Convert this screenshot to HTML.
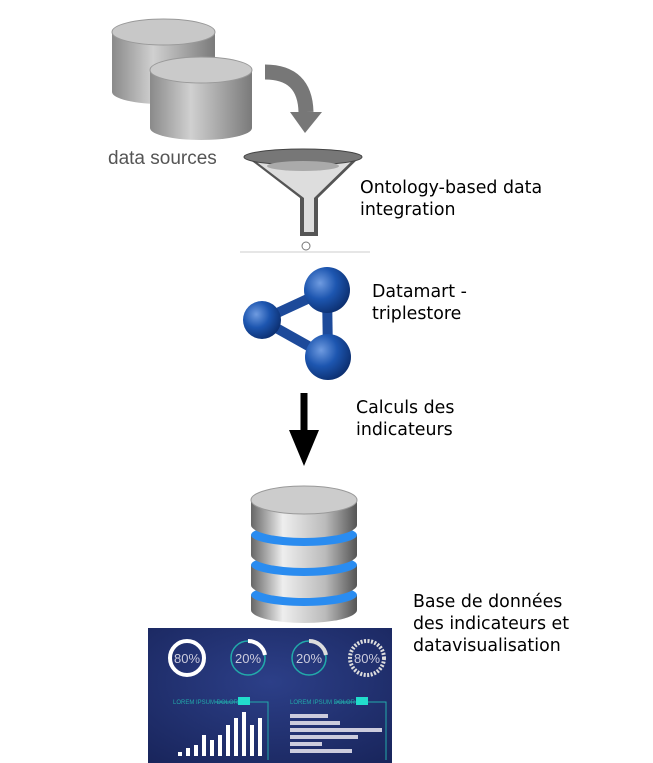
<!DOCTYPE html><html><head><style>
body{margin:0;width:653px;height:763px;background:#fff;overflow:hidden;position:relative;font-family:"DejaVu Sans",sans-serif}
.t{position:absolute;font-size:17.4px;line-height:22px;color:#000}
</style></head><body>
<svg width="653" height="763" style="position:absolute;left:0;top:0">
<defs>
<linearGradient id="cg" x1="0" x2="1"><stop offset="0" stop-color="#8a8a8a"/><stop offset=".4" stop-color="#d0d0d0"/><stop offset="1" stop-color="#7a7a7a"/></linearGradient>
<linearGradient id="sg" x1="0" x2="1"><stop offset="0" stop-color="#666"/><stop offset=".3" stop-color="#eee"/><stop offset=".7" stop-color="#bbb"/><stop offset="1" stop-color="#555"/></linearGradient>
<radialGradient id="bg" cx=".35" cy=".35" r=".7"><stop offset="0" stop-color="#6f9be0"/><stop offset=".5" stop-color="#1d56b0"/><stop offset="1" stop-color="#0c2f70"/></radialGradient>
<radialGradient id="dg" cx=".5" cy=".4" r=".8"><stop offset="0" stop-color="#2c3f88"/><stop offset="1" stop-color="#18245a"/></radialGradient>
</defs>
<path d="M112 32 V92 A51 12 0 0 0 215 92 V32 Z" fill="url(#cg)"/>
<ellipse cx="163.5" cy="32" rx="51.5" ry="13" fill="#c8c8c8" stroke="#999"/>
<path d="M150 70 V128 A51 12 0 0 0 252 128 V70 Z" fill="url(#cg)"/>
<ellipse cx="201" cy="70" rx="51" ry="13" fill="#cacaca" stroke="#999"/>
<path d="M265 72 Q305 72 306 112" stroke="#777" stroke-width="15" fill="none"/>
<polygon points="290,112 322,112 305,133" fill="#777"/>
<text x="108" y="164" font-family="Liberation Sans" font-size="19" fill="#555">data sources</text>
<polygon points="244,155 362,155 318,198 318,236 300,236 300,198" fill="#555"/>
<polygon points="250,157 356,157 314,198 314,232 304,232 304,198" fill="#ddd"/>
<ellipse cx="303" cy="157" rx="59" ry="8" fill="#777" stroke="#444"/>
<ellipse cx="303" cy="166" rx="36" ry="5" fill="#aaa"/>
<circle cx="306" cy="246" r="4" fill="#fff" stroke="#777"/>
<line x1="240" y1="252" x2="370" y2="252" stroke="#ccc"/>
<g stroke="#1d4a9a" stroke-width="10"><line x1="262" y1="320" x2="327" y2="290"/><line x1="262" y1="320" x2="328" y2="357"/><line x1="327" y1="290" x2="328" y2="357"/></g>
<circle cx="262" cy="320" r="19" fill="url(#bg)"/>
<circle cx="327" cy="290" r="23" fill="url(#bg)"/>
<circle cx="328" cy="357" r="23" fill="url(#bg)"/>
<line x1="304" y1="393" x2="304" y2="440" stroke="#000" stroke-width="7"/>
<polygon points="289,430 319,430 304,466" fill="#000"/>
<path d="M251 595 V610 A53 13 0 0 0 357 610 V595 Z" fill="url(#sg)"/>
<ellipse cx="304" cy="595" rx="53" ry="11" fill="#2a8cf0"/>
<path d="M251 565 V585 A53 13 0 0 0 357 585 V565 Z" fill="url(#sg)"/>
<ellipse cx="304" cy="565" rx="53" ry="11" fill="#2a8cf0"/>
<path d="M251 535 V555 A53 13 0 0 0 357 555 V535 Z" fill="url(#sg)"/>
<ellipse cx="304" cy="535" rx="53" ry="11" fill="#2a8cf0"/>
<path d="M251 500 V525 A53 13 0 0 0 357 525 V500 Z" fill="url(#sg)"/>
<ellipse cx="304" cy="500" rx="53" ry="14" fill="#ccc" stroke="#999"/>
<rect x="148" y="628" width="244" height="135" fill="url(#dg)"/>
<g fill="none" stroke-width="4">
<circle cx="187" cy="658" r="17" stroke="#fff"/>
<circle cx="248" cy="658" r="17" stroke="#2aa" stroke-width="1.5"/><path d="M248 641 A17 17 0 0 1 265 655" stroke="#fff"/>
<circle cx="309" cy="658" r="17" stroke="#2aa" stroke-width="1.5"/><path d="M309 641 A17 17 0 0 1 326 655" stroke="#ddd"/>
<circle cx="367" cy="658" r="17" stroke="#ddd" stroke-dasharray="2 1.5"/>
</g>
<g font-family="Liberation Sans" font-size="13" fill="#ccd" text-anchor="middle"><text x="187" y="663">80%</text><text x="248" y="663">20%</text><text x="309" y="663">20%</text><text x="367" y="663">80%</text></g>
<g stroke="#2aa" fill="none"><polyline points="215,702 268,702 268,760"/><polyline points="335,702 386,702 386,760"/></g>
<rect x="238" y="697" width="12" height="8" fill="#2dc"/><rect x="356" y="697" width="12" height="8" fill="#2dc"/>
<text x="173" y="704" font-size="6" fill="#2aa" font-family="Liberation Sans">LOREM IPSUM DOLOR</text>
<text x="290" y="704" font-size="6" fill="#2aa" font-family="Liberation Sans">LOREM IPSUM DOLOR</text>
<g fill="#fff"><rect x="178" y="752" width="4" height="4"/><rect x="186" y="748" width="4" height="8"/><rect x="194" y="745" width="4" height="11"/><rect x="202" y="735" width="4" height="21"/><rect x="210" y="740" width="4" height="16"/><rect x="218" y="735" width="4" height="21"/><rect x="226" y="725" width="4" height="31"/><rect x="234" y="718" width="4" height="38"/><rect x="242" y="712" width="4" height="44"/><rect x="250" y="725" width="4" height="31"/><rect x="258" y="718" width="4" height="38"/></g>
<g fill="#ccd"><rect x="290" y="714" width="38" height="4"/><rect x="290" y="721" width="50" height="4"/><rect x="290" y="728" width="92" height="4"/><rect x="290" y="735" width="68" height="4"/><rect x="290" y="742" width="32" height="4"/><rect x="290" y="749" width="62" height="4"/></g>
</svg>
<div class="t" style="left:360px;top:177px">Ontology-based data<br>integration</div>
<div class="t" style="left:372px;top:281px">Datamart -<br>triplestore</div>
<div class="t" style="left:356px;top:397px">Calculs des<br>indicateurs</div>
<div class="t" style="left:413px;top:591px">Base de données<br>des indicateurs et<br>datavisualisation</div>
</body></html>
